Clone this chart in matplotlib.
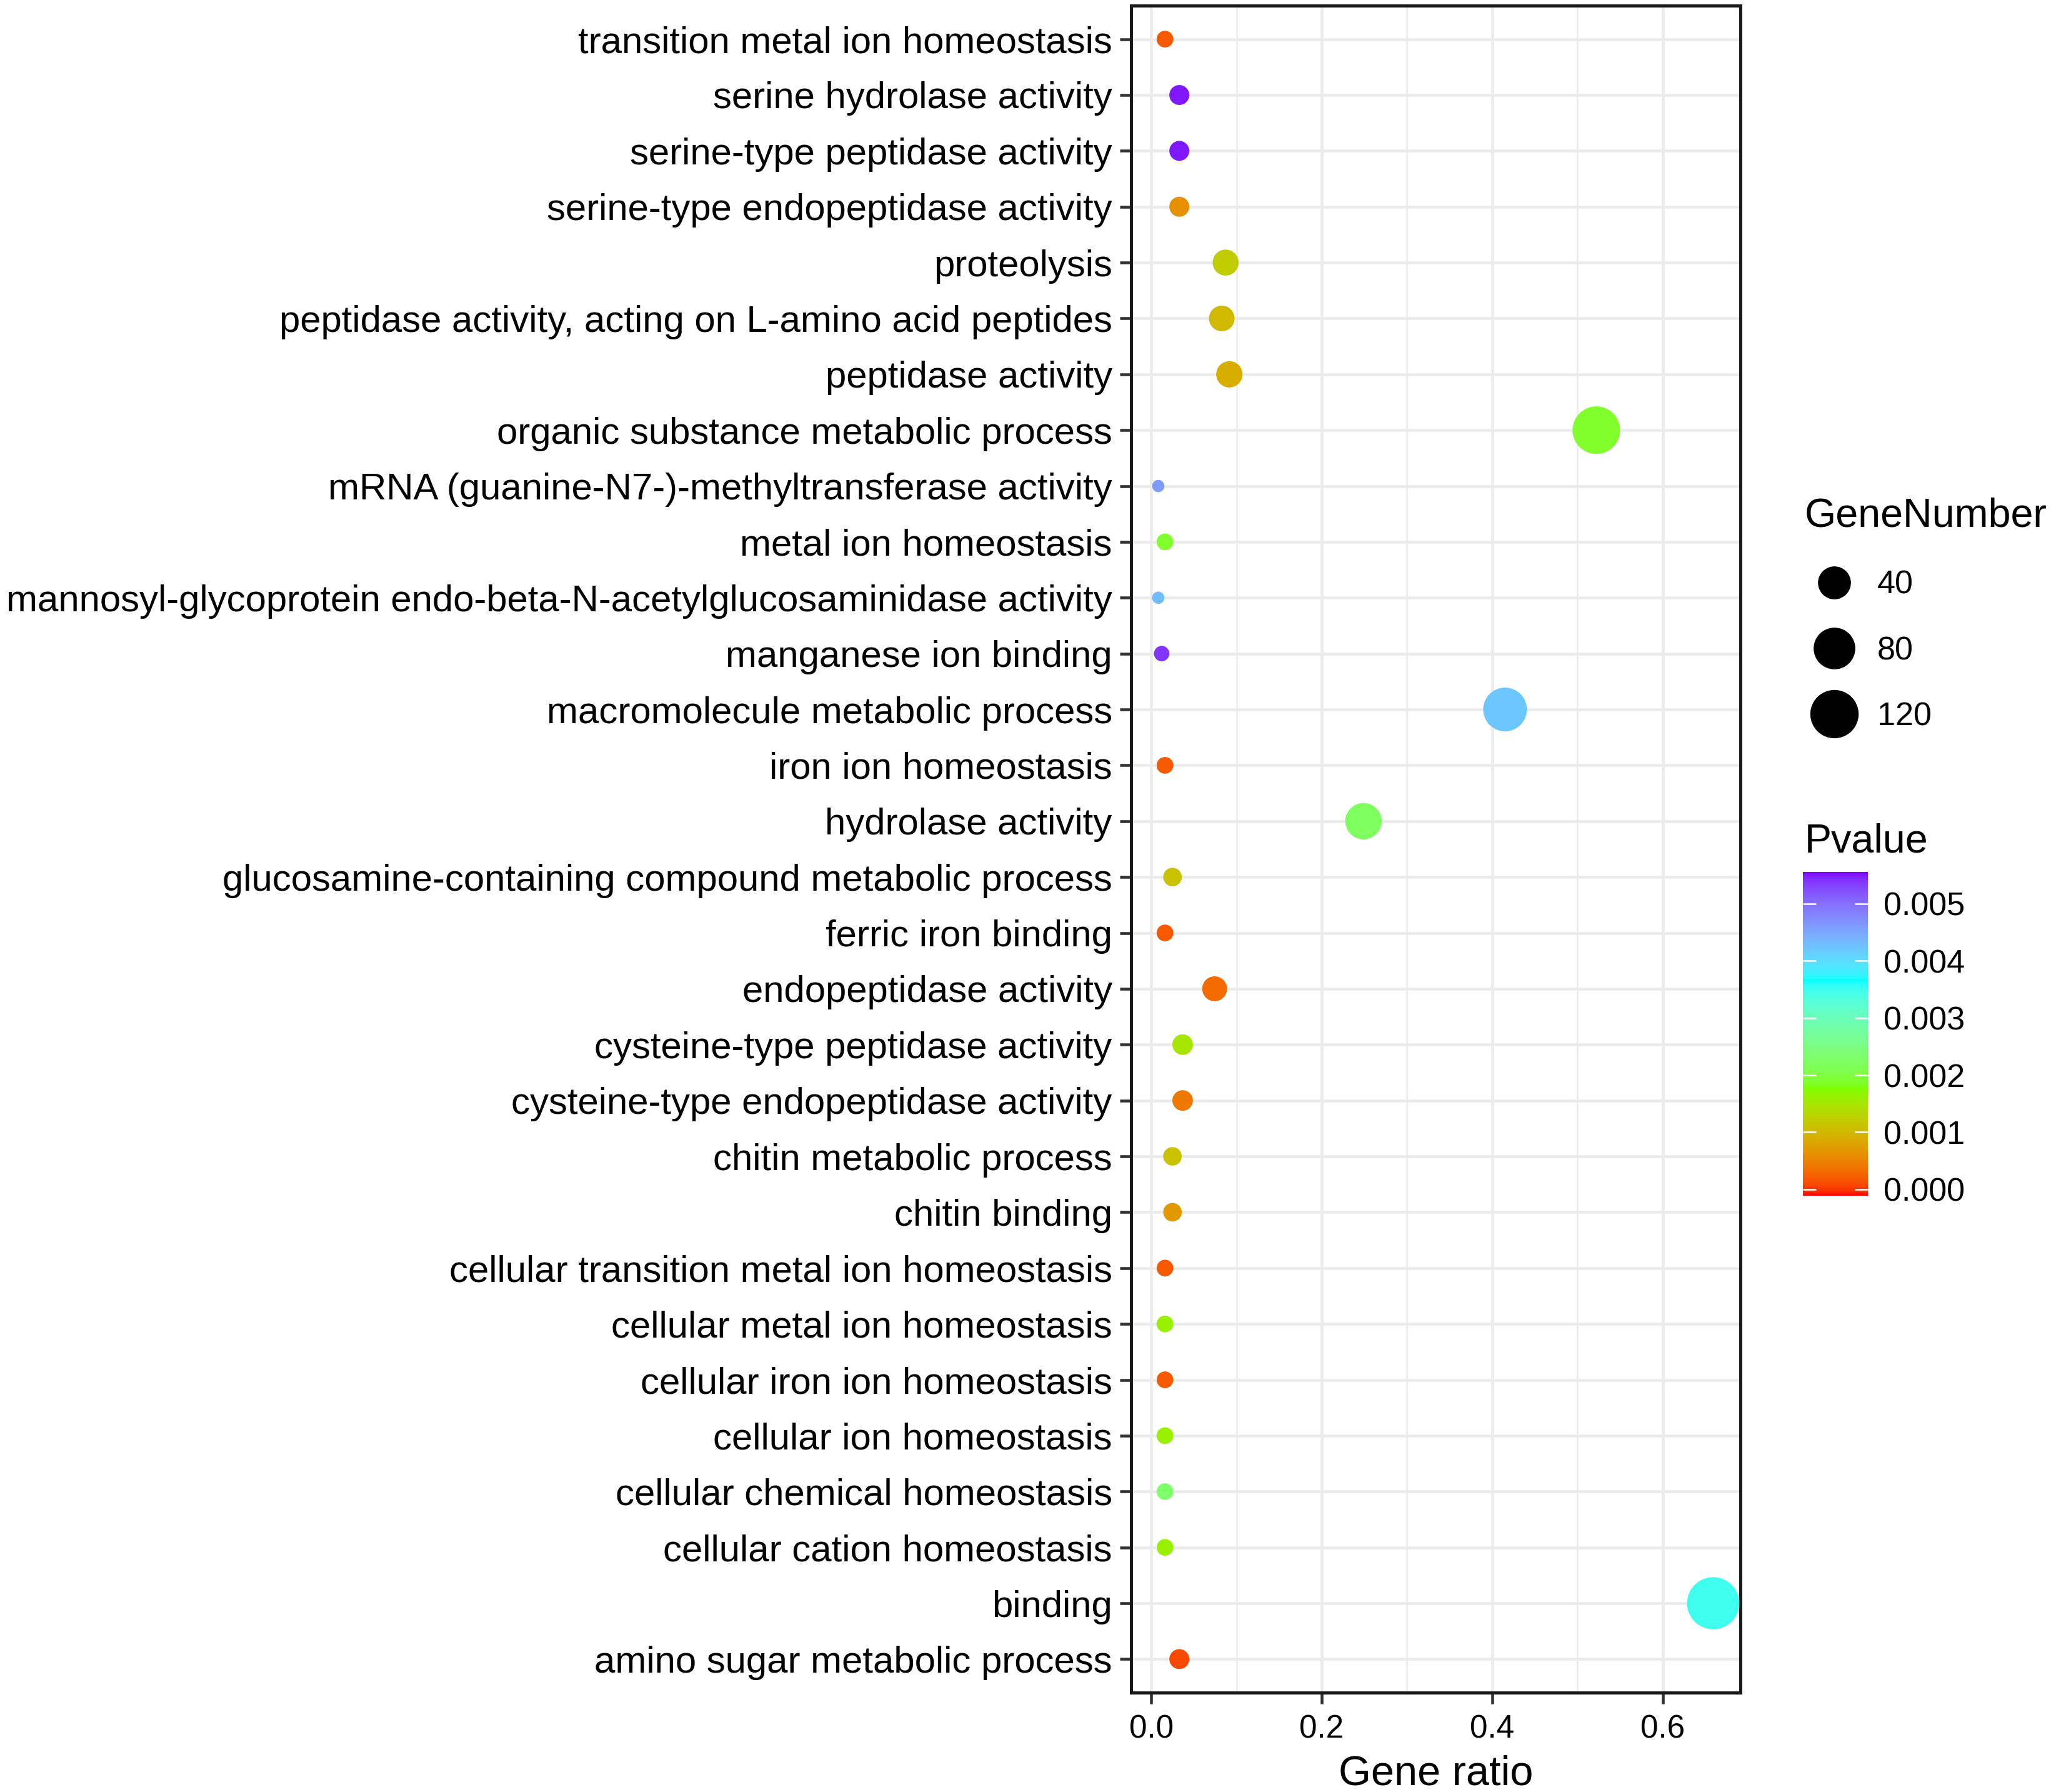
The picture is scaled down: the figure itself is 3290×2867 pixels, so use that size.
import numpy as np
import matplotlib
matplotlib.use("Agg")
import matplotlib.pyplot as plt
import matplotlib.colors as mcolors
from matplotlib.lines import Line2D
from matplotlib.cm import ScalarMappable

plt.rcParams['font.family'] = ['Liberation Sans', 'DejaVu Sans']

# GO terms, listed top to bottom as in the chart
terms = [
    "transition metal ion homeostasis",
    "serine hydrolase activity",
    "serine-type peptidase activity",
    "serine-type endopeptidase activity",
    "proteolysis",
    "peptidase activity, acting on L-amino acid peptides",
    "peptidase activity",
    "organic substance metabolic process",
    "mRNA (guanine-N7-)-methyltransferase activity",
    "metal ion homeostasis",
    "mannosyl-glycoprotein endo-beta-N-acetylglucosaminidase activity",
    "manganese ion binding",
    "macromolecule metabolic process",
    "iron ion homeostasis",
    "hydrolase activity",
    "glucosamine-containing compound metabolic process",
    "ferric iron binding",
    "endopeptidase activity",
    "cysteine-type peptidase activity",
    "cysteine-type endopeptidase activity",
    "chitin metabolic process",
    "chitin binding",
    "cellular transition metal ion homeostasis",
    "cellular metal ion homeostasis",
    "cellular iron ion homeostasis",
    "cellular ion homeostasis",
    "cellular chemical homeostasis",
    "cellular cation homeostasis",
    "binding",
    "amino sugar metabolic process",
]
gene_ratio = [0.0162, 0.033, 0.033, 0.033, 0.0873, 0.0828, 0.0917, 0.522,
              0.0083, 0.0162, 0.0083, 0.0123, 0.415, 0.0162, 0.249, 0.025,
              0.0162, 0.0744, 0.0369, 0.0369, 0.025, 0.025, 0.0162, 0.0162,
              0.0162, 0.0162, 0.0162, 0.0162, 0.659, 0.033]
gene_number = [4, 8, 8, 8, 21, 20, 22, 128,
               2, 4, 2, 3, 102, 4, 61, 6,
               4, 18, 9, 9, 6, 6, 4, 4,
               4, 4, 4, 4, 162, 8]
pvalue = [0.0002, 0.0055, 0.0055, 0.0006, 0.0012, 0.0010, 0.0009, 0.0019,
          0.0046, 0.0019, 0.0043, 0.0054, 0.0042, 0.0002, 0.0022, 0.0011,
          0.0002, 0.0003, 0.0015, 0.0004, 0.0011, 0.0007, 0.0002, 0.0016,
          0.0002, 0.0016, 0.0023, 0.0016, 0.0035, 0.0001]
size_breaks = [40, 80, 120]
pvalue_ticks = [0.000, 0.001, 0.002, 0.003, 0.004, 0.005]
gradient_colours = ["#FF0000", "#7FFF00", "#00FFFF", "#7F00FF"]


# ggplot-style gradient: interpolate colours in Lab space
WHITE = np.array([0.95047, 1.0, 1.08883])
M = np.array([[0.4124, 0.3576, 0.1805],
              [0.2126, 0.7152, 0.0722],
              [0.0193, 0.1192, 0.9505]])


def to_lab(hexcol):
    rgb = np.array(mcolors.to_rgb(hexcol))
    lin = np.where(rgb <= 0.04045, rgb / 12.92, ((rgb + 0.055) / 1.055) ** 2.4)
    t = M @ lin / WHITE
    f = np.where(t > 0.008856, np.cbrt(t), 7.787 * t + 16 / 116)
    return np.array([116 * f[1] - 16, 500 * (f[0] - f[1]), 200 * (f[1] - f[2])])


def from_lab(lab):
    fy = (lab[0] + 16) / 116
    f = np.array([fy + lab[1] / 500, fy, fy - lab[2] / 200])
    t = np.where(f ** 3 > 0.008856, f ** 3, (f - 16 / 116) / 7.787) * WHITE
    lin = np.linalg.solve(M, t)
    lin = np.clip(lin, 0, 1)
    rgb = np.where(lin <= 0.0031308, lin * 12.92, 1.055 * lin ** (1 / 2.4) - 0.055)
    return np.clip(rgb, 0, 1)


labs = [to_lab(c) for c in gradient_colours]
stops = np.linspace(0, 1, len(labs))
samples = []
for v in np.linspace(0, 1, 256):
    i = min(np.searchsorted(stops, v, side='right') - 1, len(labs) - 2)
    w = (v - stops[i]) / (stops[i + 1] - stops[i])
    samples.append(from_lab(labs[i] * (1 - w) + labs[i + 1] * w))
cmap = mcolors.ListedColormap(samples)
norm = mcolors.Normalize(vmin=-0.00011, vmax=0.00556)

# size scale like ggplot area_pal: diameter grows with sqrt of rescaled value
n_min, n_max = min(gene_number), max(gene_number)
d_min, d_max = 4.7, 20.0  # points


def diameter(n):
    return d_min + (d_max - d_min) * np.sqrt((np.asarray(n) - n_min) / (n_max - n_min))


fig = plt.figure(figsize=(3290 / 300, 2867 / 300), dpi=300)
ax = fig.add_axes([0.5502, 0.05546, 0.8465 - 0.5502, 0.99686 - 0.05546])

ax.scatter(gene_ratio[::-1], terms[::-1], s=diameter(gene_number[::-1]) ** 2,
           c=pvalue[::-1], cmap=cmap, norm=norm, linewidths=0, zorder=3)

ax.set_xlim(-0.0234, 0.691)
ax.set_ylim(-0.6, len(terms) - 0.4)
ax.set_xticks([0.0, 0.2, 0.4, 0.6])
ax.set_xticklabels(["0.0", "0.2", "0.4", "0.6"])
ax.set_xticks([0.1, 0.3, 0.5], minor=True)
ax.grid(which='major', color='#EBEBEB', lw=1.1, zorder=0)
ax.grid(which='minor', axis='x', color='#EBEBEB', lw=0.6, zorder=0)
ax.set_axisbelow(True)
for sp in ax.spines.values():
    sp.set_color('#1A1A1A')
    sp.set_linewidth(1.2)
ax.tick_params(which='major', length=4.4, width=1.1, color='#333333',
               labelsize=12.3, labelcolor='black')
ax.tick_params(axis='y', labelsize=14.4, pad=2.9)
ax.tick_params(axis='x', pad=3.8)
ax.tick_params(which='minor', length=0)
ax.set_xlabel("Gene ratio", fontsize=16, labelpad=4)

# size legend
handles = [Line2D([], [], ls='none', marker='o', markersize=float(diameter(b)) * 1.04,
                  markerfacecolor='black', markeredgewidth=0) for b in size_breaks]
fig.legend(handles, [str(b) for b in size_breaks], title="GeneNumber",
           loc='upper left', bbox_to_anchor=(0.8778, 0.7225), frameon=False,
           fontsize=12.5, title_fontsize=15.5, alignment='left', borderpad=0,
           borderaxespad=0, handlelength=1.8, handletextpad=0.42, labelspacing=1.08)

# colour bar
cax = fig.add_axes([0.8769, 0.3328, 0.0316, 0.1807])
cb = fig.colorbar(ScalarMappable(norm=norm, cmap=cmap), cax=cax)
cb.outline.set_visible(False)
cb.set_ticks(pvalue_ticks)
cb.set_ticklabels(["%.3f" % t for t in pvalue_ticks])
cax.tick_params(left=True, right=True, direction='in', length=5, width=0.6,
                color='white', labelsize=12.5, pad=6)
fig.text(0.8778, 1 - 1347 / 2867, "Pvalue", fontsize=15.5, va='center', ha='left')

fig.savefig("out.png", dpi=300)
